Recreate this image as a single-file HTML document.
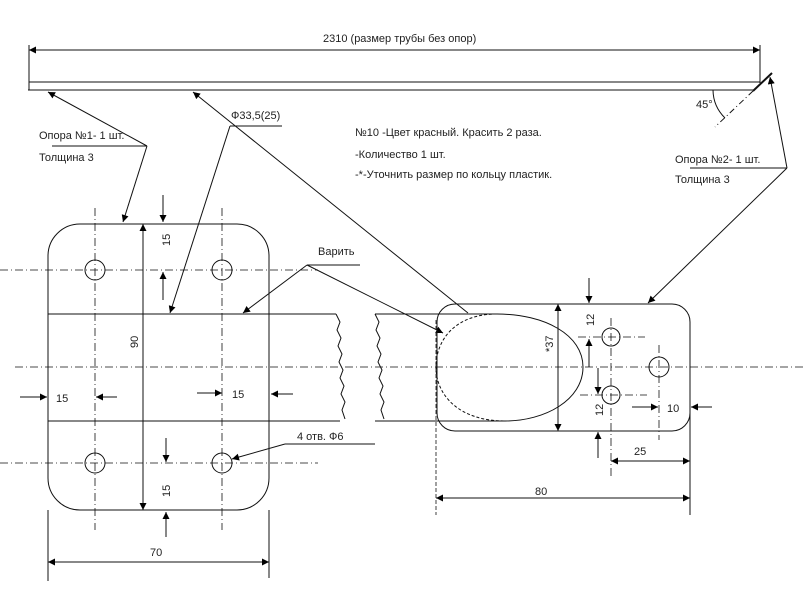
<!DOCTYPE html>
<html><head><meta charset="utf-8"><style>
html,body{margin:0;padding:0;background:#fff;}
svg{display:block;}
text{font-family:"Liberation Sans","DejaVu Sans",sans-serif;font-size:11px;fill:#222;}
</style></head><body>
<svg width="806" height="605" viewBox="0 0 806 605" xmlns="http://www.w3.org/2000/svg">
<defs>
<marker id="a" viewBox="0 0 10 10" refX="10" refY="5" markerWidth="9" markerHeight="7" orient="auto-start-reverse" markerUnits="userSpaceOnUse"><path d="M0,0 L10,5 L0,10 z" fill="#000"/></marker>
</defs>
<g stroke="#111" stroke-width="1" fill="none">
<!-- top pipe -->
<line x1="29" y1="50" x2="760" y2="50" marker-start="url(#a)" marker-end="url(#a)"/>
<line x1="29" y1="45" x2="29" y2="90"/>
<line x1="760" y1="45" x2="760" y2="83"/>
<line x1="29" y1="82" x2="760" y2="82"/>
<line x1="28" y1="90" x2="753" y2="90"/>
<line x1="753" y1="91" x2="772" y2="73" stroke-width="2"/>
<line x1="753" y1="91" x2="715" y2="127" stroke-dasharray="6,3,1,3"/>
<path d="M713,90 A40,40 0 0 0 725,118"/>
<!-- leaders -->
<line x1="52" y1="146" x2="147" y2="146"/>
<line x1="147" y1="146" x2="48" y2="92" marker-end="url(#a)"/>
<line x1="147" y1="146" x2="123" y2="222" marker-end="url(#a)"/>
<line x1="230" y1="126" x2="282" y2="126"/>
<line x1="230" y1="126" x2="170" y2="313" marker-end="url(#a)"/>
<line x1="468" y1="313" x2="193" y2="92" marker-end="url(#a)"/>
<line x1="307" y1="265" x2="360" y2="265"/>
<line x1="307" y1="265" x2="243" y2="313" marker-end="url(#a)"/>
<line x1="307" y1="265" x2="443" y2="333" marker-end="url(#a)"/>
<line x1="690" y1="168" x2="787" y2="168"/>
<line x1="787" y1="168" x2="770" y2="77" marker-end="url(#a)"/>
<line x1="787" y1="168" x2="648" y2="303" marker-end="url(#a)"/>
<line x1="285" y1="444" x2="375" y2="444"/>
<line x1="285" y1="444" x2="232" y2="459" marker-end="url(#a)"/>
<!-- left plate -->
<rect x="48" y="224" width="221" height="286" rx="32" ry="32"/>
<line x1="48" y1="314" x2="336" y2="314"/>
<line x1="48" y1="421" x2="340" y2="421"/>
<path d="M336,314 l4,8 l-3,8 l4,8 l-3,8 l4,8 l-3,8 l4,8 l-3,8 l4,8 l-3,8 l4,8 l-3,8 l3,9"/>
<circle cx="95" cy="270" r="10"/><circle cx="222" cy="270" r="10"/>
<circle cx="95" cy="463" r="10"/><circle cx="222" cy="463" r="10"/>
<g stroke-dasharray="8,3,1,3" stroke-width="0.8">
<line x1="95" y1="208" x2="95" y2="530"/>
<line x1="222" y1="208" x2="222" y2="530"/>
<line x1="0" y1="270" x2="318" y2="270"/>
<line x1="0" y1="463" x2="318" y2="463"/>
<line x1="15" y1="367" x2="806" y2="367"/>
<line x1="611" y1="318" x2="611" y2="478"/>
<line x1="659" y1="345" x2="659" y2="440"/>
<line x1="578" y1="337" x2="645" y2="337"/>
<line x1="580" y1="395" x2="647" y2="395"/>
<line x1="436" y1="320" x2="436" y2="515" stroke-dasharray="4,2"/>
</g>
<line x1="143" y1="224" x2="143" y2="510" marker-start="url(#a)" marker-end="url(#a)"/>
<line x1="163" y1="195" x2="163" y2="222" marker-end="url(#a)"/>
<line x1="163" y1="300" x2="163" y2="272" marker-end="url(#a)"/>
<line x1="166" y1="438" x2="166" y2="462" marker-end="url(#a)"/>
<line x1="166" y1="537" x2="166" y2="512" marker-end="url(#a)"/>
<line x1="20" y1="397" x2="47" y2="397" marker-end="url(#a)"/>
<line x1="117" y1="397" x2="96" y2="397" marker-end="url(#a)"/>
<line x1="197" y1="393" x2="222" y2="393" marker-end="url(#a)"/>
<line x1="293" y1="394" x2="271" y2="394" marker-end="url(#a)"/>
<line x1="48" y1="510" x2="48" y2="581"/>
<line x1="269" y1="510" x2="269" y2="578"/>
<line x1="48" y1="562" x2="269" y2="562" marker-start="url(#a)" marker-end="url(#a)"/>
<!-- right plate -->
<rect x="437" y="304" width="253" height="127" rx="18" ry="18"/>
<path d="M375,314 L497,314"/>
<path d="M375,421 L505,421"/>
<path d="M375,314 l4,8 l-3,8 l4,8 l-3,8 l4,8 l-3,8 l4,8 l-3,8 l4,8 l-3,8 l4,8 l-3,8 l3,9"/>
<path d="M497,314 C545,314 583,335 583,367 C583,400 545,421 505,421"/>
<path d="M497,314 C455,314 436,340 436,367 C436,396 460,421 505,421" stroke-dasharray="3,2"/>
<circle cx="611" cy="337" r="9"/><circle cx="611" cy="395" r="9"/><circle cx="659" cy="367" r="10"/>
<line x1="558" y1="304" x2="558" y2="431" marker-start="url(#a)" marker-end="url(#a)"/>
<line x1="589" y1="278" x2="589" y2="303" marker-end="url(#a)"/>
<line x1="589" y1="367" x2="589" y2="339" marker-end="url(#a)"/>
<line x1="598" y1="368" x2="598" y2="394" marker-end="url(#a)"/>
<line x1="598" y1="458" x2="598" y2="432" marker-end="url(#a)"/>
<line x1="632" y1="407" x2="658" y2="407" marker-end="url(#a)"/>
<line x1="712" y1="407" x2="691" y2="407" marker-end="url(#a)"/>
<line x1="690" y1="385" x2="690" y2="515"/>
<line x1="611" y1="461" x2="690" y2="461" marker-start="url(#a)" marker-end="url(#a)"/>
<line x1="436" y1="498" x2="690" y2="498" marker-start="url(#a)" marker-end="url(#a)"/>
</g>
<text x="323" y="42">2310 (размер трубы без опор)</text>
<text x="696" y="108">45°</text>
<text x="39" y="139">Опора №1- 1 шт.</text>
<text x="39" y="161">Толщина 3</text>
<text x="231" y="119">Ф33,5(25)</text>
<text x="355" y="136">№10  -Цвет красный. Красить 2 раза.</text>
<text x="355" y="158">-Количество 1 шт.</text>
<text x="355" y="178">-*-Уточнить размер по кольцу пластик.</text>
<text x="675" y="163">Опора №2- 1 шт.</text>
<text x="675" y="183">Толщина 3</text>
<text x="318" y="255">Варить</text>
<text x="297" y="440">4 отв. Ф6</text>
<text x="56" y="402">15</text>
<text x="232" y="398">15</text>
<text x="150" y="556">70</text>
<text x="535" y="495">80</text>
<text x="634" y="455">25</text>
<text x="667" y="412">10</text>
<text transform="translate(170,246) rotate(-90)">15</text>
<text transform="translate(170,497) rotate(-90)">15</text>
<text transform="translate(138,348) rotate(-90)">90</text>
<text transform="translate(553,352) rotate(-90)">*37</text>
<text transform="translate(594,326) rotate(-90)">12</text>
<text transform="translate(603,416) rotate(-90)">12</text>
</svg>
</body></html>
